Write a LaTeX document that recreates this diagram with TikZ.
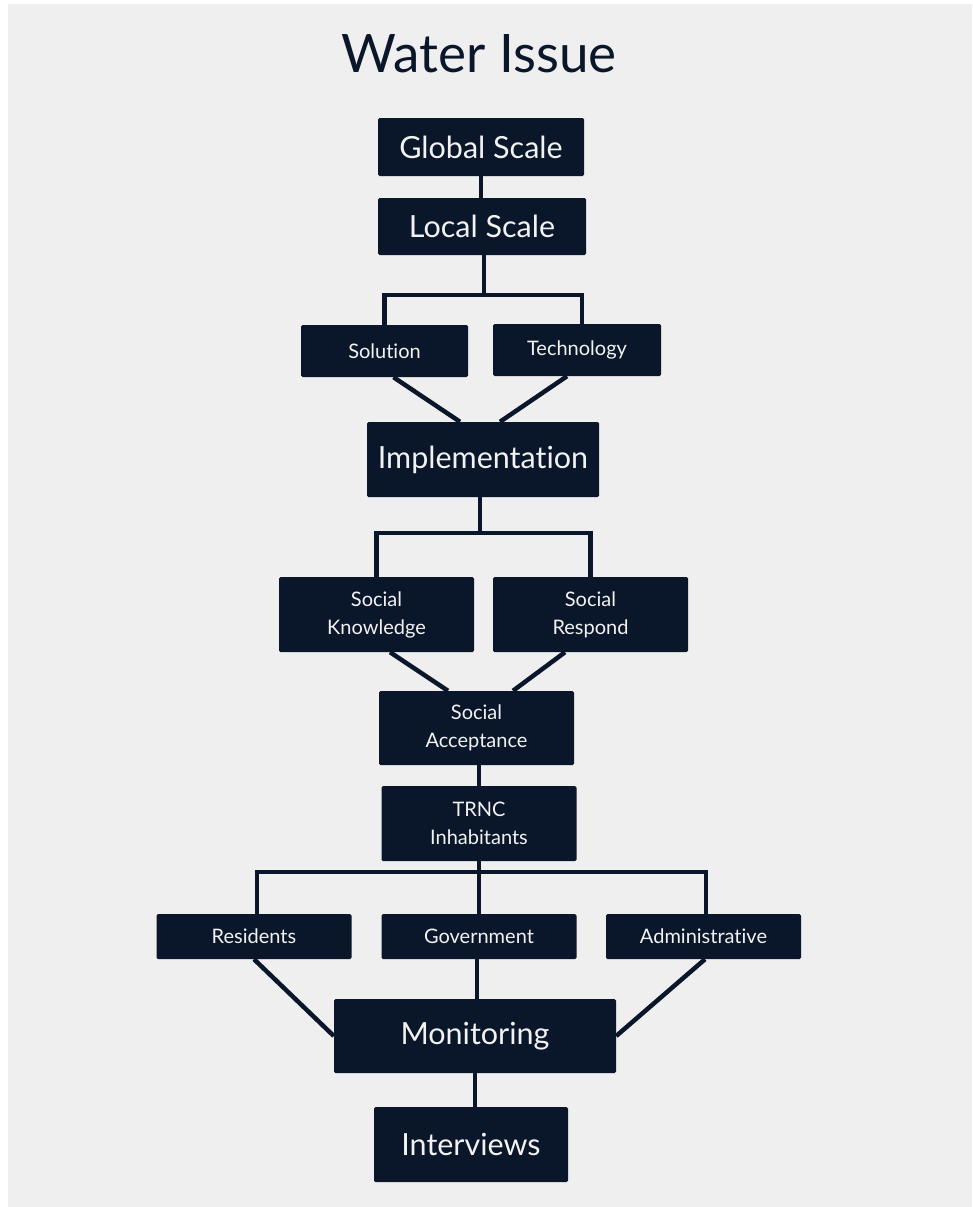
\documentclass[tikz,border=0pt]{standalone}
\usepackage{fontspec}
\setmainfont{Lato}[Ligatures=NoCommon]
\usetikzlibrary{calc}
\pgfdeclarelayer{back}
\pgfdeclarelayer{lines}
\pgfsetlayers{back,lines,main}
\definecolor{navy}{RGB}{10,22,42}
\definecolor{bgrey}{RGB}{239,239,239}
\definecolor{boxtext}{RGB}{242,242,242}
\begin{document}
\begin{tikzpicture}[x=1pt,y=-1pt,
  box/.style={fill=navy, text=boxtext, rounded corners=1.5pt, inner sep=0pt, align=center},
  link/.style={draw=navy, line width=4.5pt},
  ftitle/.style={font=\fontsize{53}{60}\selectfont},
  fbig/.style={font=\fontsize{30.5}{36}\selectfont},
  fhuge/.style={font=\fontsize{30.5}{36}\selectfont},
  fsmall/.style={font=\fontsize{20}{28}\selectfont},
]
\begin{pgfonlayer}{back}
\fill[white] (0,0) rectangle (972,1207);
\fill[bgrey] (8,4) rectangle (972,1207);
\end{pgfonlayer}
\useasboundingbox (0,0) rectangle (972,1207);

\node[ftitle, text=navy, anchor=base] (title) at (479,73) {Water Issue};

\node[box, fbig, minimum width=206pt, minimum height=58pt] (global) at (481,147) {Global Scale};
\node[box, fbig, minimum width=208pt, minimum height=57pt] (local) at (482,226.5) {Local Scale};
\node[box, fsmall, minimum width=167pt, minimum height=52pt] (sol) at (384.5,351) {Solution};
\node[box, fsmall, minimum width=168pt, minimum height=52pt] (tech) at (577,350) {Technology};
\node[box, fhuge, minimum width=232pt, minimum height=75pt] (impl) at (483,459.5) {Implementation};
\node[box, fsmall, minimum width=195pt, minimum height=75pt] (sk) at (376.5,614.5) {Social\\Knowledge};
\node[box, fsmall, minimum width=195pt, minimum height=75pt] (sr) at (590.5,614.5) {Social\\Respond};
\node[box, fsmall, minimum width=195pt, minimum height=74pt] (sa) at (476.5,728) {Social\\Acceptance};
\node[box, fsmall, minimum width=195pt, minimum height=75pt] (trnc) at (479,823.5) {TRNC\\Inhabitants};
\node[box, fsmall, minimum width=195pt, minimum height=45pt] (res) at (254,936.5) {Residents};
\node[box, fsmall, minimum width=195pt, minimum height=45pt] (gov) at (479,936.5) {Government};
\node[box, fsmall, minimum width=195pt, minimum height=45pt] (adm) at (703.5,936.5) {Administrative};
\node[box, fhuge, minimum width=282pt, minimum height=74pt] (mon) at (475,1036) {Monitoring};
\node[box, fhuge, minimum width=194pt, minimum height=75pt] (int) at (471,1144.5) {Interviews};

\coordinate (j1) at (484,295);
\coordinate (j2) at (480,533);
\coordinate (j3) at (479,872);

\begin{pgfonlayer}{lines}
\draw[link] (global.south) -- (global.south |- local.north);
\draw[link] (local.south -| j1) -- (j1);
\draw[link] (sol.north) |- (j1) -| ($(tech.north)+(5,0)$);
\draw[link] ($(sol.south)+(9,0)$) -- ($(impl.north)+(-23,0)$);
\draw[link] ($(tech.south)+(-10,0)$) -- ($(impl.north)+(17,0)$);
\draw[link] (impl.south -| j2) -- (j2);
\draw[link] (sk.north) |- (j2) -| (sr.north);
\draw[link] ($(sk.south)+(13.5,0)$) -- ($(sa.north)+(-28.5,0)$);
\draw[link] ($(sr.south)+(-25.5,0)$) -- ($(sa.north)+(36.5,0)$);
\draw[link] (trnc.north) -- (trnc.north |- sa.south);
\draw[link] (trnc.south) -- (gov.north);
\draw[link] ($(res.north)+(3,0)$) |- (j3) -| ($(adm.north)+(2.5,0)$);
\draw[link] (res.south) -- (mon.west);
\draw[link] ($(adm.south)+(1.5,0)$) -- (mon.east);
\draw[link] ($(gov.south)+(-2,0)$) -- ($(mon.north)+(2,0)$);
\draw[link] (mon.south) -- (mon.south |- int.north);
\end{pgfonlayer}
\end{tikzpicture}
\end{document}
